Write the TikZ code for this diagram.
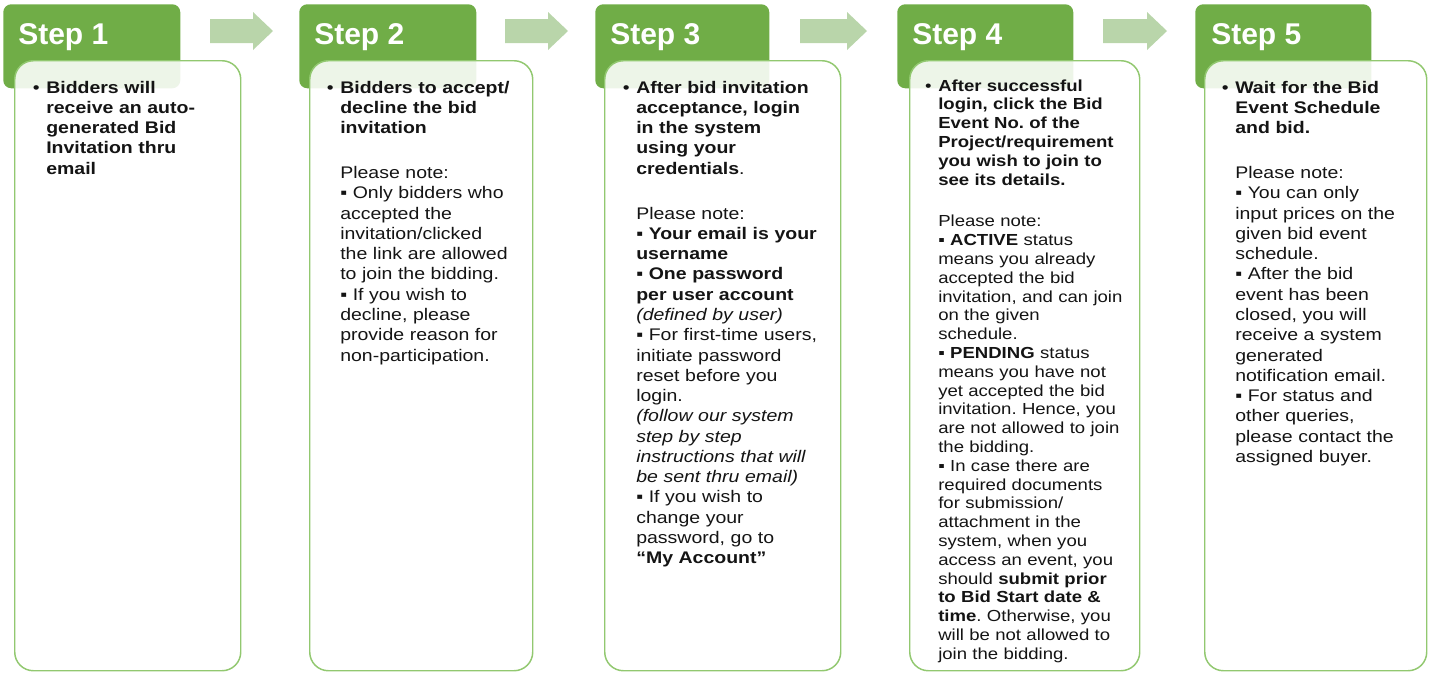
\documentclass[tikz,border=0pt]{standalone}
\usepackage{fontspec}
\setmainfont[FakeStretch=1.16]{Liberation Sans}
\newfontfamily\hdfont{Liberation Sans}
\definecolor{hdgreen}{RGB}{112,173,71}
\definecolor{bordergreen}{RGB}{146,200,112}
\definecolor{arrowgreen}{RGB}{185,213,170}
\definecolor{txt}{RGB}{20,20,20}
\newcommand\mybul{\llap{\mdseries\textbullet\hskip5pt}}
\newcommand\mysq{▪}
\newcommand\blockarrow[3]{\fill[arrowgreen] (#1,19) -- (#2,19) -- (#2,12) -- (#3,31) -- (#2,50) -- (#2,43) -- (#1,43) -- cycle;}
\frenchspacing
\begin{document}
\begin{tikzpicture}[x=0.75pt,y=-0.75pt,
  hdrbox/.style={fill=hdgreen, rounded corners=6pt, anchor=north west, inner sep=0pt, minimum height=63pt},
  hdrtext/.style={font=\hdfont\bfseries\fontsize{22.5pt}{27pt}\selectfont, text=white, anchor=base west, inner sep=0pt},
  bodybox/.style={draw=bordergreen, line width=1.1pt, fill=white, fill opacity=0.88, rounded corners=14pt, anchor=north west, inner sep=0pt, minimum height=457.5pt},
  bodytext/.style={font=\fontsize{12.6pt}{15.2pt}\selectfont\frenchspacing, text=txt, text width=175pt, align=left, inner sep=0pt, anchor=base west},
  smalltext/.style={bodytext, font=\fontsize{12pt}{14.1pt}\selectfont\frenchspacing}]
\useasboundingbox (0,0) rectangle (1432,672);

% header boxes
\node[hdrbox, minimum width=132.75pt] (h1) at (3,4) {};
\node[hdrbox, minimum width=132.75pt] (h2) at (299,4) {};
\node[hdrbox, minimum width=130.5pt] (h3) at (595,4) {};
\node[hdrbox, minimum width=132pt] (h4) at (897,4) {};
\node[hdrbox, minimum width=132pt] (h5) at (1195,4) {};

% block arrows
\blockarrow{210}{253}{273}
\blockarrow{505}{548}{568}
\blockarrow{800}{847}{867}
\blockarrow{1103}{1147}{1167}

% content boxes
\node[bodybox, minimum width=169.5pt] (b1) at (14,60) {};
\node[bodybox, minimum width=167.25pt] (b2) at (309,60) {};
\node[bodybox, minimum width=177pt] (b3) at (604,60) {};
\node[bodybox, minimum width=172.5pt] (b4) at (909,60) {};
\node[bodybox, minimum width=166.5pt] (b5) at (1204,60) {};

% header texts
\node[hdrtext] (s1) at (18,44) {Step 1};
\node[hdrtext] (s2) at (314,44) {Step 2};
\node[hdrtext] (s3) at (610,44) {Step 3};
\node[hdrtext] (s4) at (912,44) {Step 4};
\node[hdrtext] (s5) at (1211,44) {Step 5};

% body texts
\node[bodytext] (t1) at (46,93) {\bfseries\mybul Bidders will\\receive an auto-\\generated Bid\\Invitation thru\\email};

\node[bodytext] (t2) at (340,93) {\textbf{\mybul Bidders to accept/}\\\textbf{decline the bid}\\\textbf{invitation}\\[18.6pt]
Please note:\\
\mysq{} Only bidders who\\accepted the\\invitation/clicked\\the link are allowed\\to join the bidding.\\
\mysq{} If you wish to\\decline, please\\provide reason for\\non-participation.};

\node[bodytext] (t3) at (636,93) {\textbf{\mybul After bid invitation}\\\textbf{acceptance, login}\\\textbf{in the system}\\\textbf{using your}\\\textbf{credentials}.\\[18.6pt]
Please note:\\
\textbf{\mysq{} Your email is your}\\\textbf{username}\\
\textbf{\mysq{} One password}\\\textbf{per user account}\\\textit{(defined by user)}\\
\mysq{} For first-time users,\\initiate password\\reset before you\\login.\\
\textit{(follow our system}\\\textit{step by step}\\\textit{instructions that will}\\\textit{be sent thru email)}\\
\mysq{} If you wish to\\change your\\password, go to\\\textbf{“My Account”}};

\node[smalltext] (t4) at (938,91) {\textbf{\mybul After successful}\\\textbf{login, click the Bid}\\\textbf{Event No. of the}\\\textbf{Project/requirement}\\\textbf{you wish to join to}\\\textbf{see its details.}\\[17.3pt]
Please note:\\
\mysq{} \textbf{ACTIVE} status\\means you already\\accepted the bid\\invitation, and can join\\on the given\\schedule.\\
\mysq{} \textbf{PENDING} status\\means you have not\\yet accepted the bid\\invitation. Hence, you\\are not allowed to join\\the bidding.\\
\mysq{} In case there are\\required documents\\for submission/\\attachment in the\\system, when you\\access an event, you\\should \textbf{submit prior}\\\textbf{to Bid Start date \&}\\\textbf{time}. Otherwise, you\\will be not allowed to\\join the bidding.};

\node[bodytext] (t5) at (1235,93) {\textbf{\mybul Wait for the Bid}\\\textbf{Event Schedule}\\\textbf{and bid.}\\[18.6pt]
Please note:\\
\mysq{} You can only\\input prices on the\\given bid event\\schedule.\\
\mysq{} After the bid\\event has been\\closed, you will\\receive a system\\generated\\notification email.\\
\mysq{} For status and\\other queries,\\please contact the\\assigned buyer.};
\end{tikzpicture}
\end{document}
